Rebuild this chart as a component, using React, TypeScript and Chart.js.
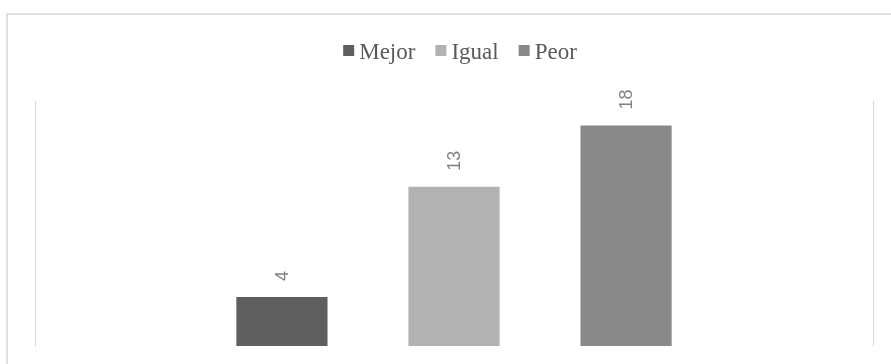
import React, { useEffect, useRef } from "react";
import { Chart, registerables } from "chart.js";

Chart.register(...registerables);

const categories: string[] = [""];
const seriesNames: string[] = ["Mejor", "Igual", "Peor"];
const mejorValues: number[] = [4];
const igualValues: number[] = [13];
const peorValues: number[] = [18];
const seriesColors: string[] = ["#5f5f5f", "#b2b2b2", "#898989"];
const yMax = 20;

const legendPlugin = {
  id: "customLegend",
  afterDraw(chart: any) {
    const ctx = chart.ctx;
    ctx.save();
    ctx.font = '23px "Liberation Serif", "Times New Roman", serif';
    const box = 11;
    const gapBoxText = 5;
    const gapItems = 20;
    const widths = chart.data.datasets.map((d: any) => ctx.measureText(d.label).width);
    const total =
      widths.reduce((a: number, w: number) => a + box + gapBoxText + w, 0) +
      gapItems * (widths.length - 1);
    let x = 460 - total / 2;
    const baseline = 59;
    chart.data.datasets.forEach((d: any, i: number) => {
      ctx.fillStyle = d.backgroundColor;
      ctx.fillRect(x, 45, box, box);
      x += box + gapBoxText;
      ctx.fillStyle = "#595959";
      ctx.textAlign = "left";
      ctx.textBaseline = "alphabetic";
      ctx.fillText(d.label, x, baseline);
      x += widths[i] + gapItems;
    });
    ctx.restore();
  },
};

const dataLabelPlugin = {
  id: "rotatedLabels",
  afterDatasetsDraw(chart: any) {
    const ctx = chart.ctx;
    ctx.save();
    ctx.font = '18px "Liberation Sans", Arial, sans-serif';
    ctx.fillStyle = "#808080";
    chart.data.datasets.forEach((d: any, di: number) => {
      const meta = chart.getDatasetMeta(di);
      meta.data.forEach((el: any, i: number) => {
        const v = d.data[i];
        ctx.save();
        ctx.translate(el.x, el.y - 16);
        ctx.rotate(-Math.PI / 2);
        ctx.textAlign = "left";
        ctx.textBaseline = "middle";
        ctx.fillText(String(v), 0, 1);
        ctx.restore();
      });
    });
    ctx.restore();
  },
};

export default function App() {
  const ref = useRef<HTMLCanvasElement | null>(null);

  useEffect(() => {
    if (!ref.current) return;
    const chart = new Chart(ref.current, {
      type: "bar",
      data: {
        labels: categories,
        datasets: [
          { label: seriesNames[0], data: mejorValues, backgroundColor: seriesColors[0] },
          { label: seriesNames[1], data: igualValues, backgroundColor: seriesColors[1] },
          { label: seriesNames[2], data: peorValues, backgroundColor: seriesColors[2] },
        ],
      },
      options: {
        responsive: false,
        animation: false,
        categoryPercentage: 0.616,
        barPercentage: 0.53,
        layout: { padding: { top: 101, bottom: 18, left: 35, right: 18 } },
        plugins: {
          legend: { display: false },
          tooltip: { enabled: false },
          title: { display: false },
        },
        scales: {
          x: {
            display: true,
            grid: { display: true, offset: true, color: "#d9d9d9", lineWidth: 1, drawTicks: false },
            ticks: { display: false },
            border: { display: false },
          },
          y: { display: false, min: 0, max: yMax },
        },
      },
      plugins: [legendPlugin, dataLabelPlugin],
    });
    return () => chart.destroy();
  }, []);

  return (
    <div
      style={{
        position: "fixed",
        left: 0,
        top: 0,
        width: 891,
        height: 364,
        overflow: "hidden",
        background: "#ffffff",
      }}
    >
      <div
        style={{
          position: "absolute",
          left: 6,
          top: 13,
          width: 900,
          height: 400,
          border: "2px solid #e0e0e0",
          boxSizing: "border-box",
        }}
      />
      <canvas
        ref={ref}
        width={891}
        height={364}
        style={{ position: "absolute", left: 0, top: 0, display: "block" }}
      />
    </div>
  );
}
